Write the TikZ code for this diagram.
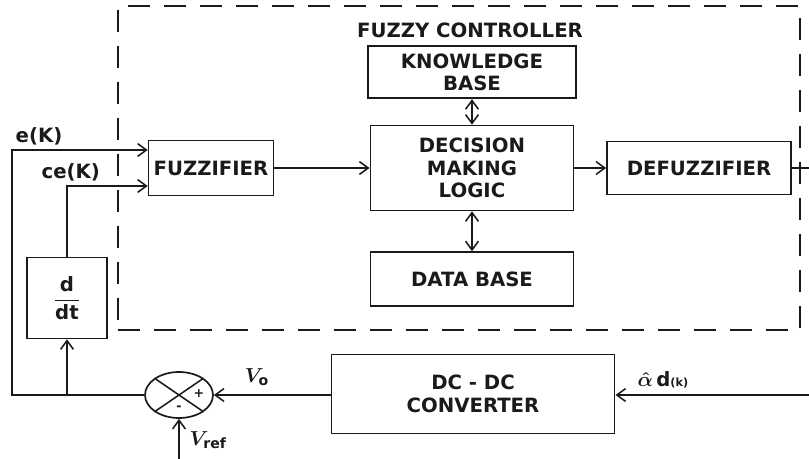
\documentclass[tikz,border=0pt]{standalone}
\usepackage{amsmath}
\usepackage{fontspec}
\setmainfont{DejaVu Sans}
\usetikzlibrary{arrows.meta,positioning,shapes.geometric}
\definecolor{ink}{HTML}{1A1A1A}

\begin{document}
\begin{tikzpicture}[
  x=0.025cm, y=-0.025cm,
  block/.style={draw=ink, line width=1.2pt, align=center, text=ink,
    font=\fontsize{14}{16}\selectfont\bfseries, inner sep=0pt},
  sigtext/.style={text=ink, font=\fontsize{14}{16}\selectfont\bfseries\boldmath, inner sep=1pt},
  fcbox/.style={draw=ink, line width=1.6pt, dash pattern=on 0.55cm off 0.35cm,
    minimum width=17.05cm, minimum height=8.1cm, inner sep=0pt},
  arrow/.style={-{Straight Barb[length=2.2mm,width=3.2mm]}, line width=1.1pt, ink},
  twoway/.style={{Straight Barb[length=2.2mm,width=3.2mm]}-{Straight Barb[length=2.2mm,width=3.2mm]}, line width=1.1pt, ink},
  wire/.style={line width=1.1pt, ink}
]
  \useasboundingbox (0,0) rectangle (809,459);

  % fuzzy controller frame
  \node[fcbox] (fc) at (459,168) {};
  \node[sigtext] (fctitle) at (470,30) {FUZZY CONTROLLER};

  \node[block, minimum width=5.08cm, minimum height=2.12cm] (dml) at (472,168) {DECISION\\MAKING\\LOGIC};
  \node[block, minimum width=5.2cm, minimum height=1.3cm, above=0.64cm of dml] (kb) {KNOWLEDGE\\BASE};
  \node[block, minimum width=5.08cm, minimum height=1.35cm, below=1cm of dml] (db) {DATA BASE};
  \node[block, minimum width=3.12cm, minimum height=1.38cm] (fuzz) at (211,168) {FUZZIFIER};
  \node[block, minimum width=4.6cm, minimum height=1.32cm] (defuzz) at (699,168) {DEFUZZIFIER};

  % plant side
  \node[block, minimum width=2cm, minimum height=2.02cm] (ddt) at (67,298) {$\dfrac{\textbf{d}}{\textbf{dt}}$};
  \node[block, minimum width=7.08cm, minimum height=1.98cm] (dcdc) at (473,394) {DC - DC\\CONVERTER};
  \node[draw=ink, line width=1.2pt, ellipse, minimum width=1.7cm, minimum height=1.15cm, inner sep=0pt] (sum) at (179,395) {};
  \draw[wire] (sum.north west) -- (sum.south east);
  \draw[wire] (sum.north east) -- (sum.south west);
  \node[sigtext, font=\small\bfseries] (splus) at (199,394) {+};
  \node[sigtext, font=\small\bfseries] (sminus) at (179,408) {-};

  \coordinate (eleft) at (12,150);
  \coordinate (ein) at ([yshift=0.45cm]fuzz.west);
  \coordinate (cein) at ([yshift=-0.45cm]fuzz.west);
  \coordinate (uout) at (809,168);
  \coordinate (alphain) at (809,395);
  \coordinate (vrefin) at (179,459);

  % signals
  \draw[arrow] (sum.west) -| (eleft) -- (ein);
  \draw[arrow] (ddt.south |- sum.west) -- (ddt.south);
  \draw[arrow] (ddt.north) |- (cein);
  \draw[arrow] (fuzz) -- (dml);
  \draw[arrow] (dml) -- (defuzz);
  \draw[wire] (defuzz) -- (uout);
  \draw[twoway] (kb) -- (dml);
  \draw[twoway] (dml) -- (db);
  \draw[arrow] (alphain) -- (dcdc.east |- alphain);
  \draw[arrow] (dcdc.west |- sum.east) -- (sum.east);
  \draw[arrow] (vrefin) -- (sum.south);

  \node[sigtext, anchor=south west] (elabel) at (14,147) {e(K)};
  \node[sigtext, anchor=south west] (celabel) at (40,183) {ce(K)};
  \node[sigtext, font=\Large\bfseries\boldmath] (volabel) at (257,377) {$V_{\textbf{o}}$};
  \node[sigtext, anchor=west] (alphalabel) at (636,380) {$\hat{\alpha}$\,d{\footnotesize(k)}};
  \node[sigtext, font=\Large\bfseries\boldmath, anchor=west] (vreflabel) at (188,440) {$V_{\textbf{ref}}$};
\end{tikzpicture}
\end{document}
